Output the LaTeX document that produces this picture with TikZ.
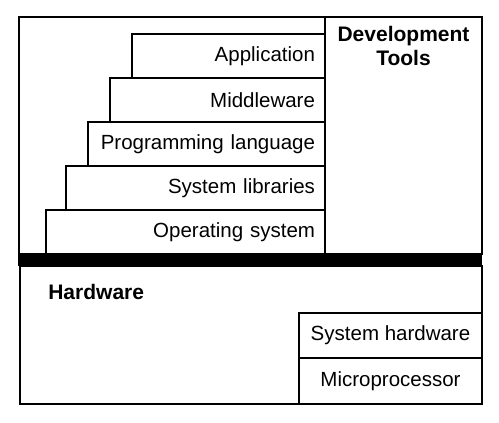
\documentclass[tikz,border=0pt]{standalone}
\usepackage{fontspec}
\setmainfont{Liberation Sans}
\usetikzlibrary{positioning}

\begin{document}
\begin{tikzpicture}[x=1pt, y=-1pt, line width=2pt,
  font=\fontsize{20.5}{24}\selectfont,
  frame/.style={draw, inner sep=0pt, outer sep=0pt, anchor=north west},
  layer/.style={draw, anchor=north east, align=right, minimum height=44pt, inner xsep=10pt, inner ysep=0pt, outer sep=0pt},
  hwbox/.style={draw, anchor=north west, minimum width=183pt, inner sep=0pt, outer sep=0pt},
  heading/.style={font=\fontsize{21}{23.5}\selectfont\bfseries, align=center}]
  \useasboundingbox (0,0) rectangle (499,423);
  % software side
  \node[frame, minimum width=463pt, minimum height=237pt] (software) at (19,17) {};
  \node[frame, minimum width=157pt, minimum height=237pt] (devtools) at (325,17) {};
  \node[heading] (devlabel) at (403.5,46) {Development\\Tools};
  \node[layer, text width=173pt] (app) at (325,34) {Application};
  \node[layer, text width=195pt] (mid) at (app.south east) {Middleware};
  \node[layer, text width=217pt] (lang) at (mid.south east) {Programming language};
  \node[layer, text width=239pt] (libs) at (lang.south east) {System libraries};
  \node[layer, text width=259pt] (os) at (libs.south east) {Operating system};
  % thick divider
  \node[frame, fill=black, draw=none, minimum width=464pt, minimum height=12pt] (bar) at (18,254) {};
  % hardware side
  \node[frame, minimum width=462pt, minimum height=138pt] (hardware) at (20,266) {};
  \node[heading, anchor=west] (hwlabel) at (44,291.5) {Hardware};
  \node[hwbox, minimum height=45pt] (syshw) at (299,313) {System hardware};
  \node[hwbox, minimum height=46pt] (cpu) at (299,358) {Microprocessor};
\end{tikzpicture}
\end{document}
